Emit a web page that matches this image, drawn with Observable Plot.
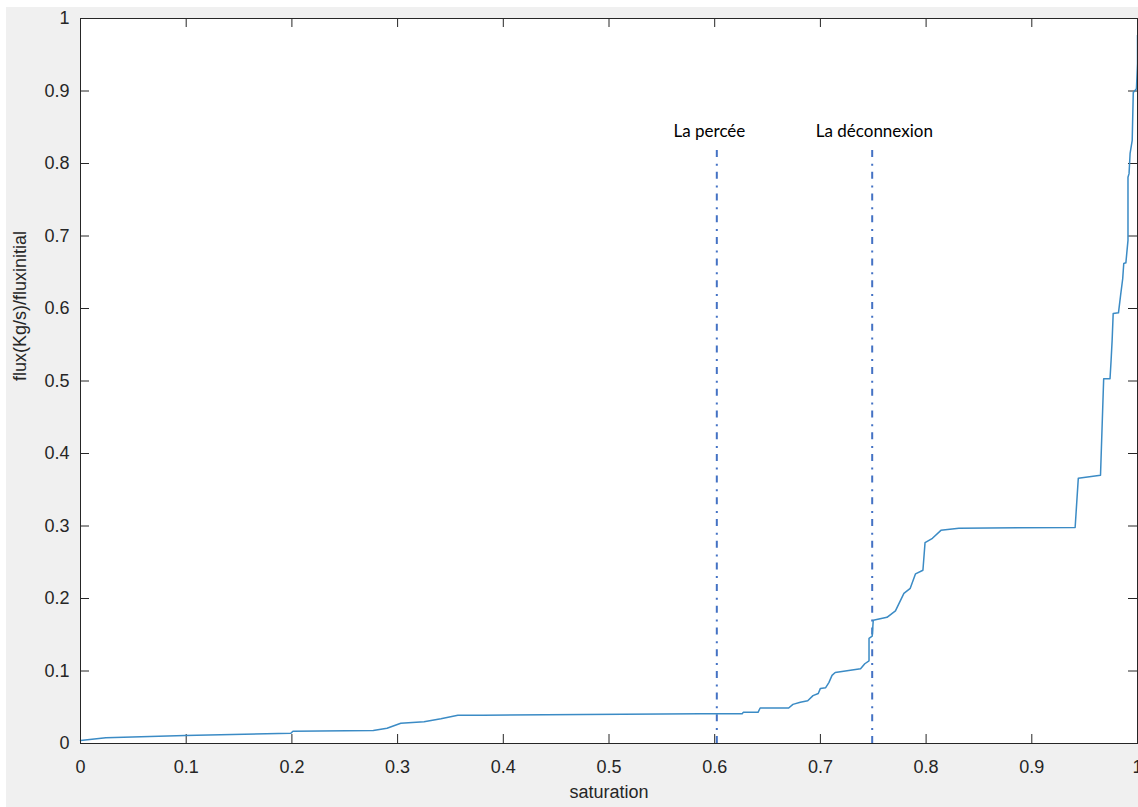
<!DOCTYPE html>
<html>
<head>
<meta charset="utf-8">
<script src="https://cdn.jsdelivr.net/npm/d3@7"></script>
<script src="https://cdn.jsdelivr.net/npm/@observablehq/plot@0.6"></script>
<style>
  html, body { margin: 0; padding: 0; background: #ffffff; overflow: hidden; }
  #chart { position: absolute; left: 6px; top: 7px; }
</style>
</head>
<body>
<div id="chart"></div>
<script>
// Curve
const saturation = [0, 0.024, 0.099, 0.199, 0.201, 0.277, 0.290, 0.303, 0.325, 0.341, 0.357, 0.381, 0.476, 0.587, 0.626, 0.627, 0.641, 0.643, 0.670, 0.674, 0.681, 0.688, 0.693, 0.698, 0.700, 0.705, 0.708, 0.711, 0.714, 0.738, 0.742, 0.746, 0.746, 0.749, 0.750, 0.763, 0.771, 0.779, 0.785, 0.790, 0.797, 0.799, 0.806, 0.814, 0.831, 0.941, 0.944, 0.965, 0.968, 0.974, 0.975, 0.976, 0.977, 0.982, 0.984, 0.986, 0.987, 0.989, 0.991, 0.991, 0.992, 0.993, 0.995, 0.996, 0.999, 1.0, 1.0];
const flux = [0.004, 0.008, 0.011, 0.014, 0.017, 0.018, 0.021, 0.028, 0.030, 0.034, 0.039, 0.039, 0.040, 0.041, 0.041, 0.043, 0.043, 0.049, 0.049, 0.054, 0.057, 0.059, 0.066, 0.069, 0.076, 0.077, 0.084, 0.094, 0.098, 0.103, 0.110, 0.114, 0.145, 0.148, 0.170, 0.174, 0.183, 0.207, 0.214, 0.234, 0.239, 0.277, 0.283, 0.294, 0.297, 0.298, 0.366, 0.370, 0.503, 0.503, 0.528, 0.556, 0.593, 0.594, 0.618, 0.641, 0.662, 0.663, 0.694, 0.781, 0.786, 0.814, 0.832, 0.898, 0.903, 0.938, 0.977];

// Vertical markers and their annotations
const markerX = [0.602, 0.749];
const markerTop = 0.818;
const markerLabels = ["La percée", "La déconnexion"];
const labelX = [0.595, 0.751];
const labelY = 0.844;

// Axes
const xTicks = [0, 0.1, 0.2, 0.3, 0.4, 0.5, 0.6, 0.7, 0.8, 0.9, 1];
const xTickLabels = ["0", "0.1", "0.2", "0.3", "0.4", "0.5", "0.6", "0.7", "0.8", "0.9", "1"];
const yTicks = [0, 0.1, 0.2, 0.3, 0.4, 0.5, 0.6, 0.7, 0.8, 0.9, 1];
const yTickLabels = ["0", "0.1", "0.2", "0.3", "0.4", "0.5", "0.6", "0.7", "0.8", "0.9", "1"];
const xLabel = "saturation";
const yLabel = "flux(Kg/s)/fluxinitial";

const data = saturation.map((s, i) => ({s, f: flux[i]}));

const W = 1132, H = 800, mL = 74, mR = 1, mT = 11, mB = 64;
const plotW = W - mL - mR, plotH = H - mT - mB;
const tickLen = 9;
const axisColor = "#262626";

const chart = Plot.plot({
  width: W, height: H,
  marginLeft: mL, marginRight: mR, marginTop: mT, marginBottom: mB,
  x: {domain: [0, 1]},
  y: {domain: [0, 1]},
  style: {background: "#f0f0f0", fontFamily: "'Liberation Sans', Arial, sans-serif", fontSize: "18px", color: axisColor, overflow: "visible"},
  marks: [
    Plot.frame({fill: "white", stroke: null}),
    Plot.tickX(xTicks, {x: d => d, insetTop: plotH - tickLen, stroke: axisColor}),
    Plot.tickX(xTicks, {x: d => d, insetBottom: plotH - tickLen, stroke: axisColor}),
    Plot.tickY(yTicks, {y: d => d, insetRight: plotW - tickLen, stroke: axisColor}),
    Plot.tickY(yTicks, {y: d => d, insetLeft: plotW - tickLen, stroke: axisColor}),
    Plot.axisX(xTicks, {tickSize: 0, tickPadding: 17, tickFormat: d => xTickLabels[xTicks.indexOf(d)], label: null, fill: axisColor}),
    Plot.axisY(yTicks, {tickSize: 0, tickPadding: 11, tickFormat: d => yTickLabels[yTicks.indexOf(d)], label: null, fill: axisColor}),
    Plot.ruleX(markerX, {x: d => d, y1: 0, y2: markerTop, stroke: "#4472C4", strokeWidth: 2, strokeDasharray: "7,6,2,6.7"}),
    Plot.line(data, {x: "s", y: "f", stroke: "#3b8bc5", strokeWidth: 1.5}),
    Plot.text(markerLabels, {x: (d, i) => labelX[i], y: labelY, text: d => d, fontFamily: "Lato, 'Open Sans', sans-serif", fontSize: 17, fill: "black"}),
    Plot.frame({stroke: axisColor}),
    Plot.text([xLabel], {frameAnchor: "bottom", dy: 54, text: d => d, fontSize: 18, fill: axisColor}),
    Plot.text([yLabel], {frameAnchor: "left", rotate: -90, dx: -60, text: d => d, fontSize: 18, fill: axisColor})
  ]
});
document.getElementById("chart").appendChild(chart);
</script>
</body>
</html>
